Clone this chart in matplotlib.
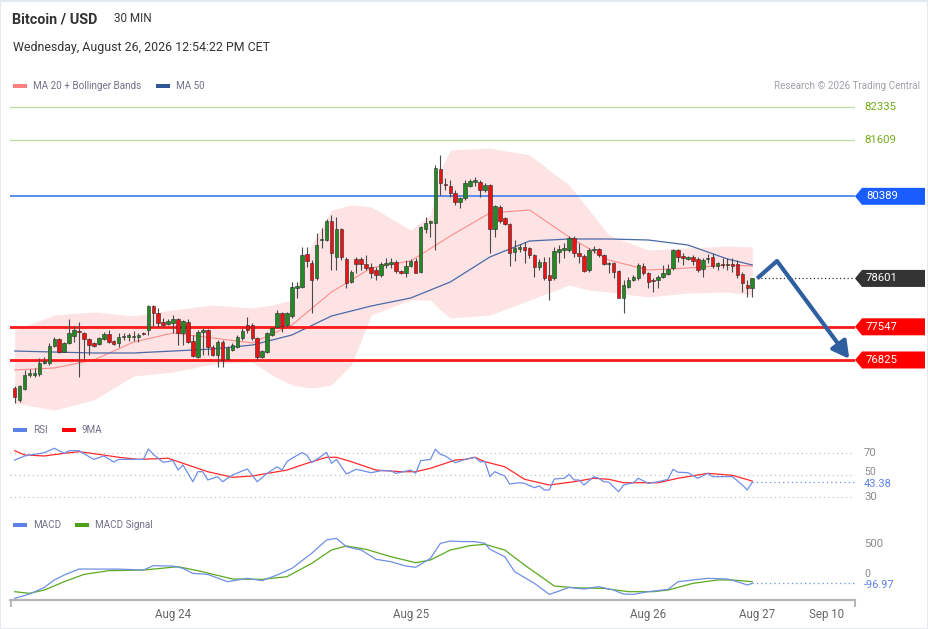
import matplotlib
matplotlib.use('Agg')
import matplotlib.pyplot as plt
from matplotlib.patches import Polygon, Rectangle
import numpy as np

plt.rcParams['font.family'] = ['Roboto', 'DejaVu Sans']

# ---------------- DATA ----------------
opens = [76208, 75953, 76199, 76498, 76491, 76513, 76766, 76766, 77129, 77275,
         77005, 77188, 77354, 77463, 77406, 77275, 77188, 77173, 77282, 77391,
         77239, 77202, 77318, 77332, 77332, 77332, 77420, 77478, 78001, 77855,
         77659, 77609, 77637, 77718, 77420, 77659, 77245, 76897, 77442, 77478,
         77114, 76933, 77223, 76847, 77042, 77114, 77297, 77587, 77587, 77297,
         76883, 77005, 77369, 77550, 77842, 77587, 77783, 78386, 78421, 79127,
         78944, 78603, 79438, 79438, 79852, 79075, 79678, 79018, 78530, 79018,
         79018, 78915, 78857, 78785, 78676, 78894, 78908, 78959, 78763, 78713,
         78872, 78981, 78749, 79671, 79815, 79815, 80977, 80655, 80621, 80469,
         80259, 80346, 80607, 80709, 80709, 80520, 80636, 79671, 80164, 79911,
         79787, 79184, 79235, 79292, 79257, 79105, 78844, 78965, 78676, 78618,
         79184, 79220, 79220, 79488, 79149, 79097, 78785, 79220, 79242, 79112,
         78908, 78930, 78763, 78168, 78421, 78567, 78618, 78879, 78713, 78567,
         78567, 78640, 78698, 78822, 79220, 79090, 79025, 79075, 79018, 78806,
         79025, 79075, 78879, 78908, 78894, 78908, 78908, 78691, 78458, 78400]
highs = [76258, 76280, 76607, 76629, 76644, 76862, 76897, 77188, 77332, 77297,
         77210, 77718, 77565, 77659, 77442, 77300, 77210, 77320, 77442, 77478,
         77260, 77420, 77406, 77420, 77463, 77406, 77442, 78023, 78023, 77950,
         77732, 77710, 77805, 77732, 77700, 77711, 77369, 77478, 77515, 77500,
         77151, 77260, 77260, 77129, 77188, 77360, 77515, 77768, 77623, 77332,
         77050, 77442, 77540, 77914, 77878, 77870, 78530, 78530, 79292, 79279,
         79003, 79584, 79693, 79889, 79983, 79945, 79700, 79068, 78785, 79075,
         79075, 79112, 78930, 78857, 78960, 79047, 79040, 79003, 78785, 79003,
         79020, 79040, 79744, 79945, 79874, 81071, 81290, 80789, 80745, 80527,
         80382, 80745, 80770, 80817, 80745, 80680, 80658, 80200, 80200, 79940,
         79809, 79438, 79350, 79400, 79286, 79133, 79025, 79075, 79068, 79292,
         79330, 79366, 79525, 79525, 79366, 79127, 79270, 79315, 79270, 79133,
         78966, 78959, 78785, 78567, 78640, 78676, 78930, 78930, 78749, 78604,
         78676, 78894, 78908, 79242, 79242, 79149, 79100, 79112, 79075, 79047,
         79127, 79149, 78960, 79040, 79040, 79040, 79003, 78749, 78567, 78604]
lows = [75888, 75916, 76171, 76454, 76448, 76476, 76737, 76716, 77101, 76970,
        76990, 77170, 77223, 76461, 76825, 76933, 77100, 77150, 77260, 77188,
        77150, 77101, 77260, 77245, 77245, 77223, 77369, 77369, 77565, 77550,
        77550, 77590, 77406, 77151, 77151, 77188, 76883, 76862, 76933, 76933,
        76912, 76672, 76672, 76825, 77020, 77090, 77260, 77406, 77260, 76825,
        76860, 76970, 77350, 77515, 77442, 77540, 77740, 78175, 78400, 78857,
        77848, 78567, 79257, 79416, 78785, 78785, 79003, 78393, 78502, 78713,
        78785, 78785, 78603, 78567, 78633, 78828, 78822, 78713, 78690, 78640,
        78850, 78713, 78720, 79584, 79510, 79220, 80418, 80527, 80382, 80200,
        80128, 80309, 80590, 80607, 80382, 80490, 79162, 79510, 79816, 79765,
        78872, 78980, 79170, 78930, 79047, 78639, 78785, 78567, 78131, 78567,
        78930, 79040, 79184, 79075, 78930, 78749, 78749, 79149, 79075, 78894,
        78713, 78604, 78168, 77842, 78386, 78545, 78567, 78676, 78386, 78313,
        78386, 78604, 78676, 78785, 78966, 78894, 79000, 78894, 78749, 78640,
        78930, 78822, 78785, 78822, 78785, 78749, 78604, 78313, 78204, 78204]
closes = [76012, 76258, 76498, 76535, 76548, 76752, 76803, 77129, 77275, 77005,
          77188, 77406, 77478, 77428, 77282, 77151, 77129, 77297, 77391, 77223,
          77173, 77332, 77347, 77369, 77354, 77369, 77384, 78001, 77842, 77637,
          77587, 77681, 77718, 77420, 77681, 77223, 76912, 77442, 77478, 77114,
          76933, 77223, 76825, 77086, 77151, 77332, 77463, 77478, 77297, 76897,
          77028, 77406, 77515, 77842, 77565, 77842, 78421, 78436, 79112, 78987,
          78567, 79329, 79460, 79852, 79149, 79671, 79068, 78508, 78741, 78915,
          78908, 78822, 78713, 78676, 78908, 78930, 78959, 78763, 78713, 78879,
          78981, 78727, 79715, 79802, 79846, 80999, 80673, 80636, 80455, 80259,
          80346, 80687, 80723, 80730, 80520, 80636, 79671, 80179, 79852, 79787,
          79149, 79270, 79279, 79220, 79105, 78850, 78965, 78604, 78567, 79198,
          79242, 79257, 79488, 79149, 79097, 78763, 79220, 79242, 79112, 78908,
          78930, 78749, 78182, 78458, 78567, 78640, 78894, 78713, 78517, 78545,
          78640, 78713, 78800, 79220, 79075, 79040, 79075, 78981, 78785, 79003,
          79054, 78879, 78930, 78894, 78908, 78879, 78676, 78494, 78386, 78601]

# Bollinger bands (MA 20 +/- bands), read at sampled candle indices
band_idx = [0, 8, 16, 24, 32, 40, 48, 52, 56, 60, 64, 68, 72, 80, 84, 86, 88, 96,
            104, 112, 116, 120, 128, 136, 144, 149]
band_upper = [77478, 77804, 77870, 77783, 77914, 78022, 77957, 78022, 78131, 79329,
              80092, 80200, 80157, 79656, 79982, 80963, 81398, 81442, 81289, 80636,
              80092, 79547, 79220, 79264, 79307, 79285]
band_lower = [75888, 75735, 75953, 76476, 76563, 76737, 76781, 76498, 76280, 76215,
              76280, 76715, 77804, 78131, 78131, 77914, 77739, 77804, 78131, 78458,
              78349, 78305, 78196, 78284, 78305, 78240]
ma_idx = [0, 8, 16, 24, 32, 40, 48, 56, 64, 72, 80, 88, 96, 104, 112, 120, 128, 136, 144, 149]
ma20 = [76607, 76650, 76825, 77216, 77412, 77304, 77195, 77587, 78305, 78828,
        78981, 79525, 80026, 80092, 79503, 79002, 78785, 78828, 78894, 78872]
ma50 = [77020, 76998, 76977, 76977, 77020, 77064, 77151, 77369, 77783, 78000,
        78175, 78523, 79068, 79416, 79460, 79460, 79438, 79329, 79024, 78894]

# Key levels
resist_levels = [82335, 81609]
pivot_level = 80389
last_price = 78601
support_levels = [77547, 76825]
forecast_x = [150, 154, 168.6]
forecast_y = [78601, 78980, 76850]

# RSI and its 9-period MA
rsi_idx = [0, 2, 4, 6, 8, 10, 11, 13, 15, 16, 18, 20, 21, 26, 27, 28, 30, 32, 33, 34,
           36, 37, 38, 39, 41, 42, 44, 47, 49, 51, 53, 54, 55, 56, 58, 59, 60, 62, 63, 64,
           65, 67, 69, 72, 74, 76, 77, 80, 81, 82, 84, 85, 86, 87, 89, 91, 92, 93, 94, 95,
           96, 97, 98, 99, 100, 102, 103, 105, 106, 107, 108, 109, 111, 112, 113, 114, 115, 117, 118, 119,
           120, 122, 123, 125, 126, 128, 130, 132, 133, 134, 136, 138, 140, 141, 145, 147, 148, 149]
rsi = [63.6, 67.3, 68.8, 70.3, 74.3, 69.7, 72.1, 72.1, 66.7, 64.2, 67.3, 61.8, 64.2, 64.2, 73.6, 68.8, 61.5, 63.0, 54.5, 59.1,
       43.9, 53.0, 53.0, 45.5, 48.5, 43.9, 50.0, 55.5, 43.9, 51.5, 57.5, 54.5, 62.1, 65.2, 70.3, 68.2, 61.2, 67.3, 70.6, 60.6,
       64.2, 50.9, 55.2, 52.1, 53.9, 53.9, 51.5, 54.5, 51.5, 63.0, 64.2, 73.4, 68.8, 67.3, 61.2, 64.2, 65.2, 66.1, 62.1, 62.1,
       48.5, 53.0, 50.9, 49.1, 41.8, 43.0, 42.4, 38.5, 40.0, 36.4, 36.4, 46.4, 47.0, 50.6, 45.5, 45.5, 40.9, 48.5, 47.0, 43.9,
       43.6, 34.8, 40.9, 43.0, 47.0, 42.4, 43.9, 46.1, 55.2, 52.5, 52.1, 47.0, 51.5, 48.5, 48.5, 40.9, 36.4, 43.38]
rsi_ma_idx = [0, 2, 6, 10, 13, 17, 21, 25, 31, 35, 39, 44, 48, 55, 59, 63, 65, 68, 73, 78,
              81, 84, 89, 91, 93, 95, 99, 103, 108, 113, 117, 120, 123, 130, 134, 140, 145, 149]
rsi_ma = [72.1, 68.2, 67.3, 69.7, 71.2, 68.8, 66.1, 64.2, 65.2, 59.1, 53.0, 47.9, 49.1, 54.5, 60.6, 66.1, 66.1, 62.1, 54.5, 53.0,
          53.0, 56.1, 63.6, 64.2, 66.1, 62.1, 57.5, 46.1, 40.9, 43.9, 47.0, 46.1, 43.0, 43.0, 47.0, 51.5, 49.7, 44.5]
rsi_levels = [70, 50, 30]

# MACD and signal
macd_idx = [0, 3, 6, 8, 10, 13, 17, 21, 26, 28, 32, 34, 36, 39, 43, 47, 50, 53, 56, 60,
            63, 65, 67, 70, 73, 76, 79, 81, 84, 86, 88, 90, 93, 95, 96, 99, 101, 105, 108, 110,
            112, 115, 118, 121, 123, 125, 128, 132, 134, 137, 140, 144, 146, 148, 149]
macd = [-323, -258, -157, -45, 30, 121, 120, 120, 106, 172, 166, 131, 55, 40, -71, -20, -55, 30, 131, 359,
        561, 586, 460, 409, 268, 232, 167, 147, 283, 510, 545, 538, 535, 510, 419, 308, 81, -96, -263, -212,
        -157, -182, -146, -197, -258, -263, -222, -187, -71, -45, -20, -30, -71, -121, -96.97]
signal_idx = [0, 3, 6, 10, 14, 19, 26, 33, 37, 44, 50, 55, 60, 64, 67, 71, 76, 81, 84, 88,
              92, 95, 99, 103, 109, 113, 119, 124, 129, 132, 137, 142, 145, 149]
macd_signal = [-222, -247, -197, -71, 40, 96, 106, 156, 96, -30, -35, 5, 207, 409, 470, 419, 308, 217, 258, 409,
               475, 495, 409, 182, -136, -162, -172, -222, -222, -197, -96, -45, -45, -71]
macd_levels = [500, 0]

tick_pos = [32, 80, 128, 150, 164]
tick_labels = ['Aug 24', 'Aug 25', 'Aug 26', 'Aug 27', 'Sep 10']

# ---------------- FIGURE ----------------
W, H = 929, 629
fig = plt.figure(figsize=(W / 100, H / 100), dpi=100)
fig.patch.set_facecolor('white')


def axes_px(left, top, right, bottom):
    return fig.add_axes([left / W, 1 - bottom / H, (right - left) / W, (bottom - top) / H])


XL = (-0.95, 169.76)
ax = axes_px(10, 100, 855, 412)
ax_rsi = axes_px(10, 440, 855, 505)
ax_macd = axes_px(10, 530, 855, 600)
for a in (ax, ax_rsi, ax_macd):
    a.set_xlim(*XL)
    a.set_facecolor('none')
    for s in a.spines.values():
        s.set_visible(False)
    a.set_yticks([])
    a.set_xticks([])
ax.set_ylim(75692, 82487)
ax_rsi.set_ylim(22.73, 81.82)
ax_macd.set_ylim(-348, 712)

GREEN = '#238a23'
RED = '#f01212'

# Bollinger band + MAs
ax.fill_between(band_idx, band_lower, band_upper, color='#fde3e3', lw=0, zorder=1)
ax.plot(ma_idx, ma20, color='#ff8c8c', lw=0.8, zorder=2)
ax.plot(ma_idx, ma50, color='#4a6aa8', lw=0.9, zorder=2)

# Level lines
for lv in resist_levels:
    ax.axhline(lv, color='#bfdfa6', lw=1.0, zorder=1)
ax.axhline(pivot_level, color='#3f7ee8', lw=1.2, zorder=1)
for lv in support_levels:
    ax.axhline(lv, color='#ff1a1a', lw=2.0, zorder=2)
ax.hlines(last_price, len(closes), XL[1], colors='#333333', lw=0.9,
          linestyles=(0, (1, 2)), zorder=2)

# Candles
o = np.array(opens); h = np.array(highs); l = np.array(lows); c = np.array(closes)
idx = np.arange(len(c))
up = c >= o
ax.vlines(idx, l, h, color='#4a4a4a', lw=0.8, zorder=3)
bottom = np.minimum(o, c)
height = np.maximum(np.abs(c - o), 25)
ax.bar(idx, height, bottom=bottom, width=0.72, color=np.where(up, GREEN, RED),
       edgecolor='#2a2a2a', linewidth=0.4, zorder=4)

# Forecast arrow
arrow_col = '#2f5f9e'
ax.plot(forecast_x[:2], forecast_y[:2], color=arrow_col, lw=3, solid_capstyle='butt', zorder=5)
ax.annotate('', xy=(forecast_x[2], forecast_y[2]), xytext=(forecast_x[1], forecast_y[1]),
            arrowprops=dict(arrowstyle='-|>,head_length=1.0,head_width=0.55', color=arrow_col,
                            lw=3, shrinkA=0, shrinkB=0), zorder=5)

# RSI panel
for lv in rsi_levels:
    ax_rsi.axhline(lv, color='#b9b9b9', lw=0.8, ls=(0, (1, 3)), zorder=1)
ax_rsi.plot(rsi_idx, rsi, color='#6f8fe6', lw=0.9, zorder=3)
ax_rsi.plot(rsi_ma_idx, rsi_ma, color='#ff2a2a', lw=0.9, zorder=2)
ax_rsi.hlines(rsi[-1], len(closes) - 1, XL[1], colors='#6f8fe6', lw=0.9,
              linestyles=(0, (1, 2.5)))

# MACD panel
ax_macd.plot(macd_idx, macd, color='#6f8fe6', lw=0.9, zorder=3)
ax_macd.plot(signal_idx, macd_signal, color='#5aa91f', lw=0.9, zorder=2)
ax_macd.hlines(macd[-1], len(closes) - 1, XL[1], colors='#6f8fe6', lw=0.9,
               linestyles=(0, (1, 2.5)))
ax_macd.spines['bottom'].set_visible(True)
ax_macd.spines['bottom'].set_color('#b5b5b5')
ax_macd.spines['bottom'].set_linewidth(1.6)
ax_macd.set_xticks([XL[0] + 0.3, XL[1] - 0.1])
ax_macd.set_xticklabels(['', ''])
ax_macd.tick_params(axis='x', which='major', length=5, width=1.4, color='#b5b5b5')
ax_macd.set_xticks(tick_pos, minor=True)
ax_macd.set_xticklabels(tick_labels, minor=True)
ax_macd.tick_params(axis='x', which='minor', length=0, pad=6, labelsize=8.3, labelcolor='#666666')

# ---------------- Right-hand labels ----------------
def disp_y(axis, v):
    return axis.transData.transform((0, v))[1]


def tag(axis, v, text, face):
    yd = disp_y(axis, v)
    pts = [(855 / W, yd / H), (862 / W, (yd + 8.5) / H), (925 / W, (yd + 8.5) / H),
           (925 / W, (yd - 8.5) / H), (862 / W, (yd - 8.5) / H)]
    fig.add_artist(Polygon(pts, closed=True, transform=fig.transFigure,
                           facecolor=face, edgecolor='none'))
    fig.text(866 / W, yd / H, text, color='white', fontsize=8.2, va='center', ha='left')


def plain(axis, v, text, color, dy=0.0, size=8.2):
    yd = disp_y(axis, v) + dy
    fig.text(864 / W, yd / H, text, color=color, fontsize=size, va='center', ha='left')


for lv in resist_levels:
    plain(ax, lv, f'{lv}', '#74ac1c')
tag(ax, pivot_level, f'{pivot_level}', '#1a5dff')
tag(ax, last_price, f'{last_price}', '#333333')
for lv in support_levels:
    tag(ax, lv, f'{lv}', '#ff0000')

# level labels, nudged slightly apart from the current-value labels that sit next to them
plain(ax_rsi, 70, '70', '#8a8a8a')
plain(ax_rsi, 50, '50', '#8a8a8a', dy=3.5, size=7.6)
plain(ax_rsi, 30, '30', '#8a8a8a')
plain(ax_rsi, rsi[-1], f'{rsi[-1]:.2f}', '#5b80e6', dy=-1.5, size=7.9)
plain(ax_macd, 500, '500', '#8a8a8a')
plain(ax_macd, 0, '0', '#8a8a8a', dy=3.5, size=7.6)
plain(ax_macd, macd[-1], f'{macd[-1]:.2f}', '#5b80e6', dy=-1.5, size=7.9)

# ---------------- Header / legends ----------------
def fy(py):
    return 1 - py / H


fig.text(12 / W, fy(19), 'Bitcoin / USD', fontsize=10.4, weight='bold', color='#333333', va='center')
fig.text(114 / W, fy(19), '30 MIN', fontsize=8.4, color='#333333', va='center')
fig.text(13 / W, fy(48), 'Wednesday, August 26, 2026 12:54:22 PM CET', fontsize=8.9,
         color='#333333', va='center')


def legend_item(x, y, color, text):
    fig.add_artist(Rectangle((x / W, fy(y + 2)), 14 / W, 4 / H, transform=fig.transFigure,
                             facecolor=color, edgecolor='none'))
    fig.text((x + 20) / W, fy(y), text, fontsize=7.1, color='#70708a', va='center')


legend_item(13, 86, '#ff8080', 'MA 20 + Bollinger Bands')
legend_item(156, 86, '#2f5597', 'MA 50')
legend_item(13, 430, '#5b80e6', 'RSI')
legend_item(62, 430, '#ff0000', '9MA')
legend_item(13, 525, '#5b80e6', 'MACD')
legend_item(75, 525, '#4ea01a', 'MACD Signal')
fig.text(920 / W, fy(86), 'Research © 2026 Trading Central', fontsize=7.1, color='#a0a0a8',
         va='center', ha='right')

# thin frame
fig.add_artist(Rectangle((0.5 / W, 0.5 / H), (W - 1.5) / W, (H - 1.5) / H, transform=fig.transFigure,
                         facecolor='none', edgecolor='#e4eaef', lw=1.5))

fig.savefig('out.png', dpi=100, facecolor='white')
